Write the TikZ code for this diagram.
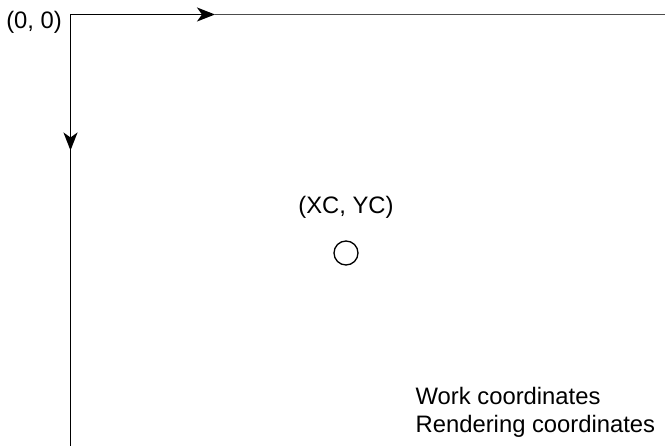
\documentclass[tikz,border=0pt]{standalone}
\usepackage{fontspec}
\setmainfont{Liberation Sans}
\usetikzlibrary{arrows.meta}
\begin{document}
\begin{tikzpicture}[x=1pt,y=-1pt,
  axis/.style={line width=1.7pt, black},
  axisarrow/.style={axis, -{Stealth[length=18pt,width=14pt,inset=5pt]}},
  frame/.style={line width=1.4pt, black!70},
  lbl/.style={inner sep=0pt, font=\fontsize{23.8}{28}\selectfont}]
\useasboundingbox (0,0) rectangle (665,446);
\coordinate (O) at (70.5,14.5);
\coordinate (xa) at (215,14.5);
\coordinate (xe) at (666,14.5);
\coordinate (ya) at (70.5,150.5);
\coordinate (ye) at (70.5,447);
\draw[frame] (xa) -- (xe);
\draw[axis] (ya) -- (ye);
\draw[axisarrow] (O) -- (xa);
\draw[axisarrow] (O) -- (ya);
\node[lbl, anchor=base east] (orig) at (62,29) {(0, 0)};
\node[draw, circle, line width=1.3pt, minimum size=24pt, inner sep=0pt] (c) at (346,253) {};
\node[lbl, anchor=base] (cl) at (346,213.5) {(XC, YC)};
\node[lbl, anchor=base west] (w) at (415.5,405) {Work coordinates};
\node[lbl, anchor=base west] (r) at (415.5,433) {Rendering coordinates};
\end{tikzpicture}
\end{document}
